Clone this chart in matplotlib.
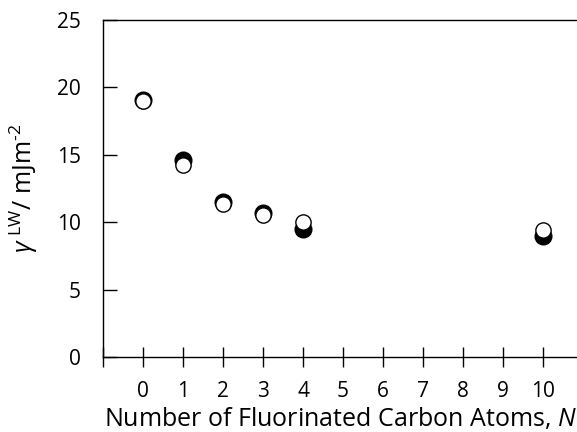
import matplotlib
matplotlib.use('Agg')
import matplotlib.pyplot as plt

# number of fluorinated carbon atoms
n_atoms = [0, 1, 2, 3, 4, 10]
# two measurement sets of gamma LW (mJ/m^2)
gamma_filled = [19.1, 14.6, 11.5, 10.7, 9.5, 8.95]
gamma_open = [19.0, 14.25, 11.35, 10.5, 10.0, 9.4]
x_ticks = list(range(-1, 11))
x_labels = [''] + [str(i) for i in range(0, 11)]
y_ticks = [0, 5, 10, 15, 20, 25]

plt.rcParams['font.family'] = ['Open Sans', 'DejaVu Sans']
plt.rcParams['mathtext.fontset'] = 'custom'
plt.rcParams['mathtext.rm'] = 'Open Sans'
plt.rcParams['mathtext.it'] = 'Open Sans:italic'
plt.rcParams['axes.unicode_minus'] = False

fig = plt.figure(figsize=(5.77, 4.32), dpi=100)
ax = fig.add_axes([103 / 577, 1 - 357 / 432, 474 / 577, 337 / 432])

ax.plot(n_atoms, gamma_filled, 'o', ms=12, mfc='black', mec='black', mew=1, zorder=3, clip_on=False)
ax.plot(n_atoms, gamma_open, 'o', ms=11, mfc='white', mec='black', mew=1, zorder=4, clip_on=False)

ax.set_xlim(-1, 10.85)
ax.set_ylim(0, 25)
ax.set_xticks(x_ticks)
ax.set_xticklabels(x_labels)
ax.set_yticks(y_ticks)

ax.tick_params(axis='x', direction='inout', length=14, width=1, labelsize=15, pad=10)
ax.tick_params(axis='y', direction='in', length=10, width=1, labelsize=15, pad=16)
ax.spines['right'].set_visible(False)
for s in ['left', 'bottom', 'top']:
    ax.spines[s].set_linewidth(1)

ax.set_xlabel('Number of Fluorinated Carbon Atoms, $\\mathit{N}$', fontsize=18, labelpad=3)
ax.set_ylabel('$\\gamma^{\\ \\mathrm{LW}}$/ mJm$^{\\text{-}2}$', fontsize=18, labelpad=12)

plt.savefig('out.png', dpi=100)
plt.close()
